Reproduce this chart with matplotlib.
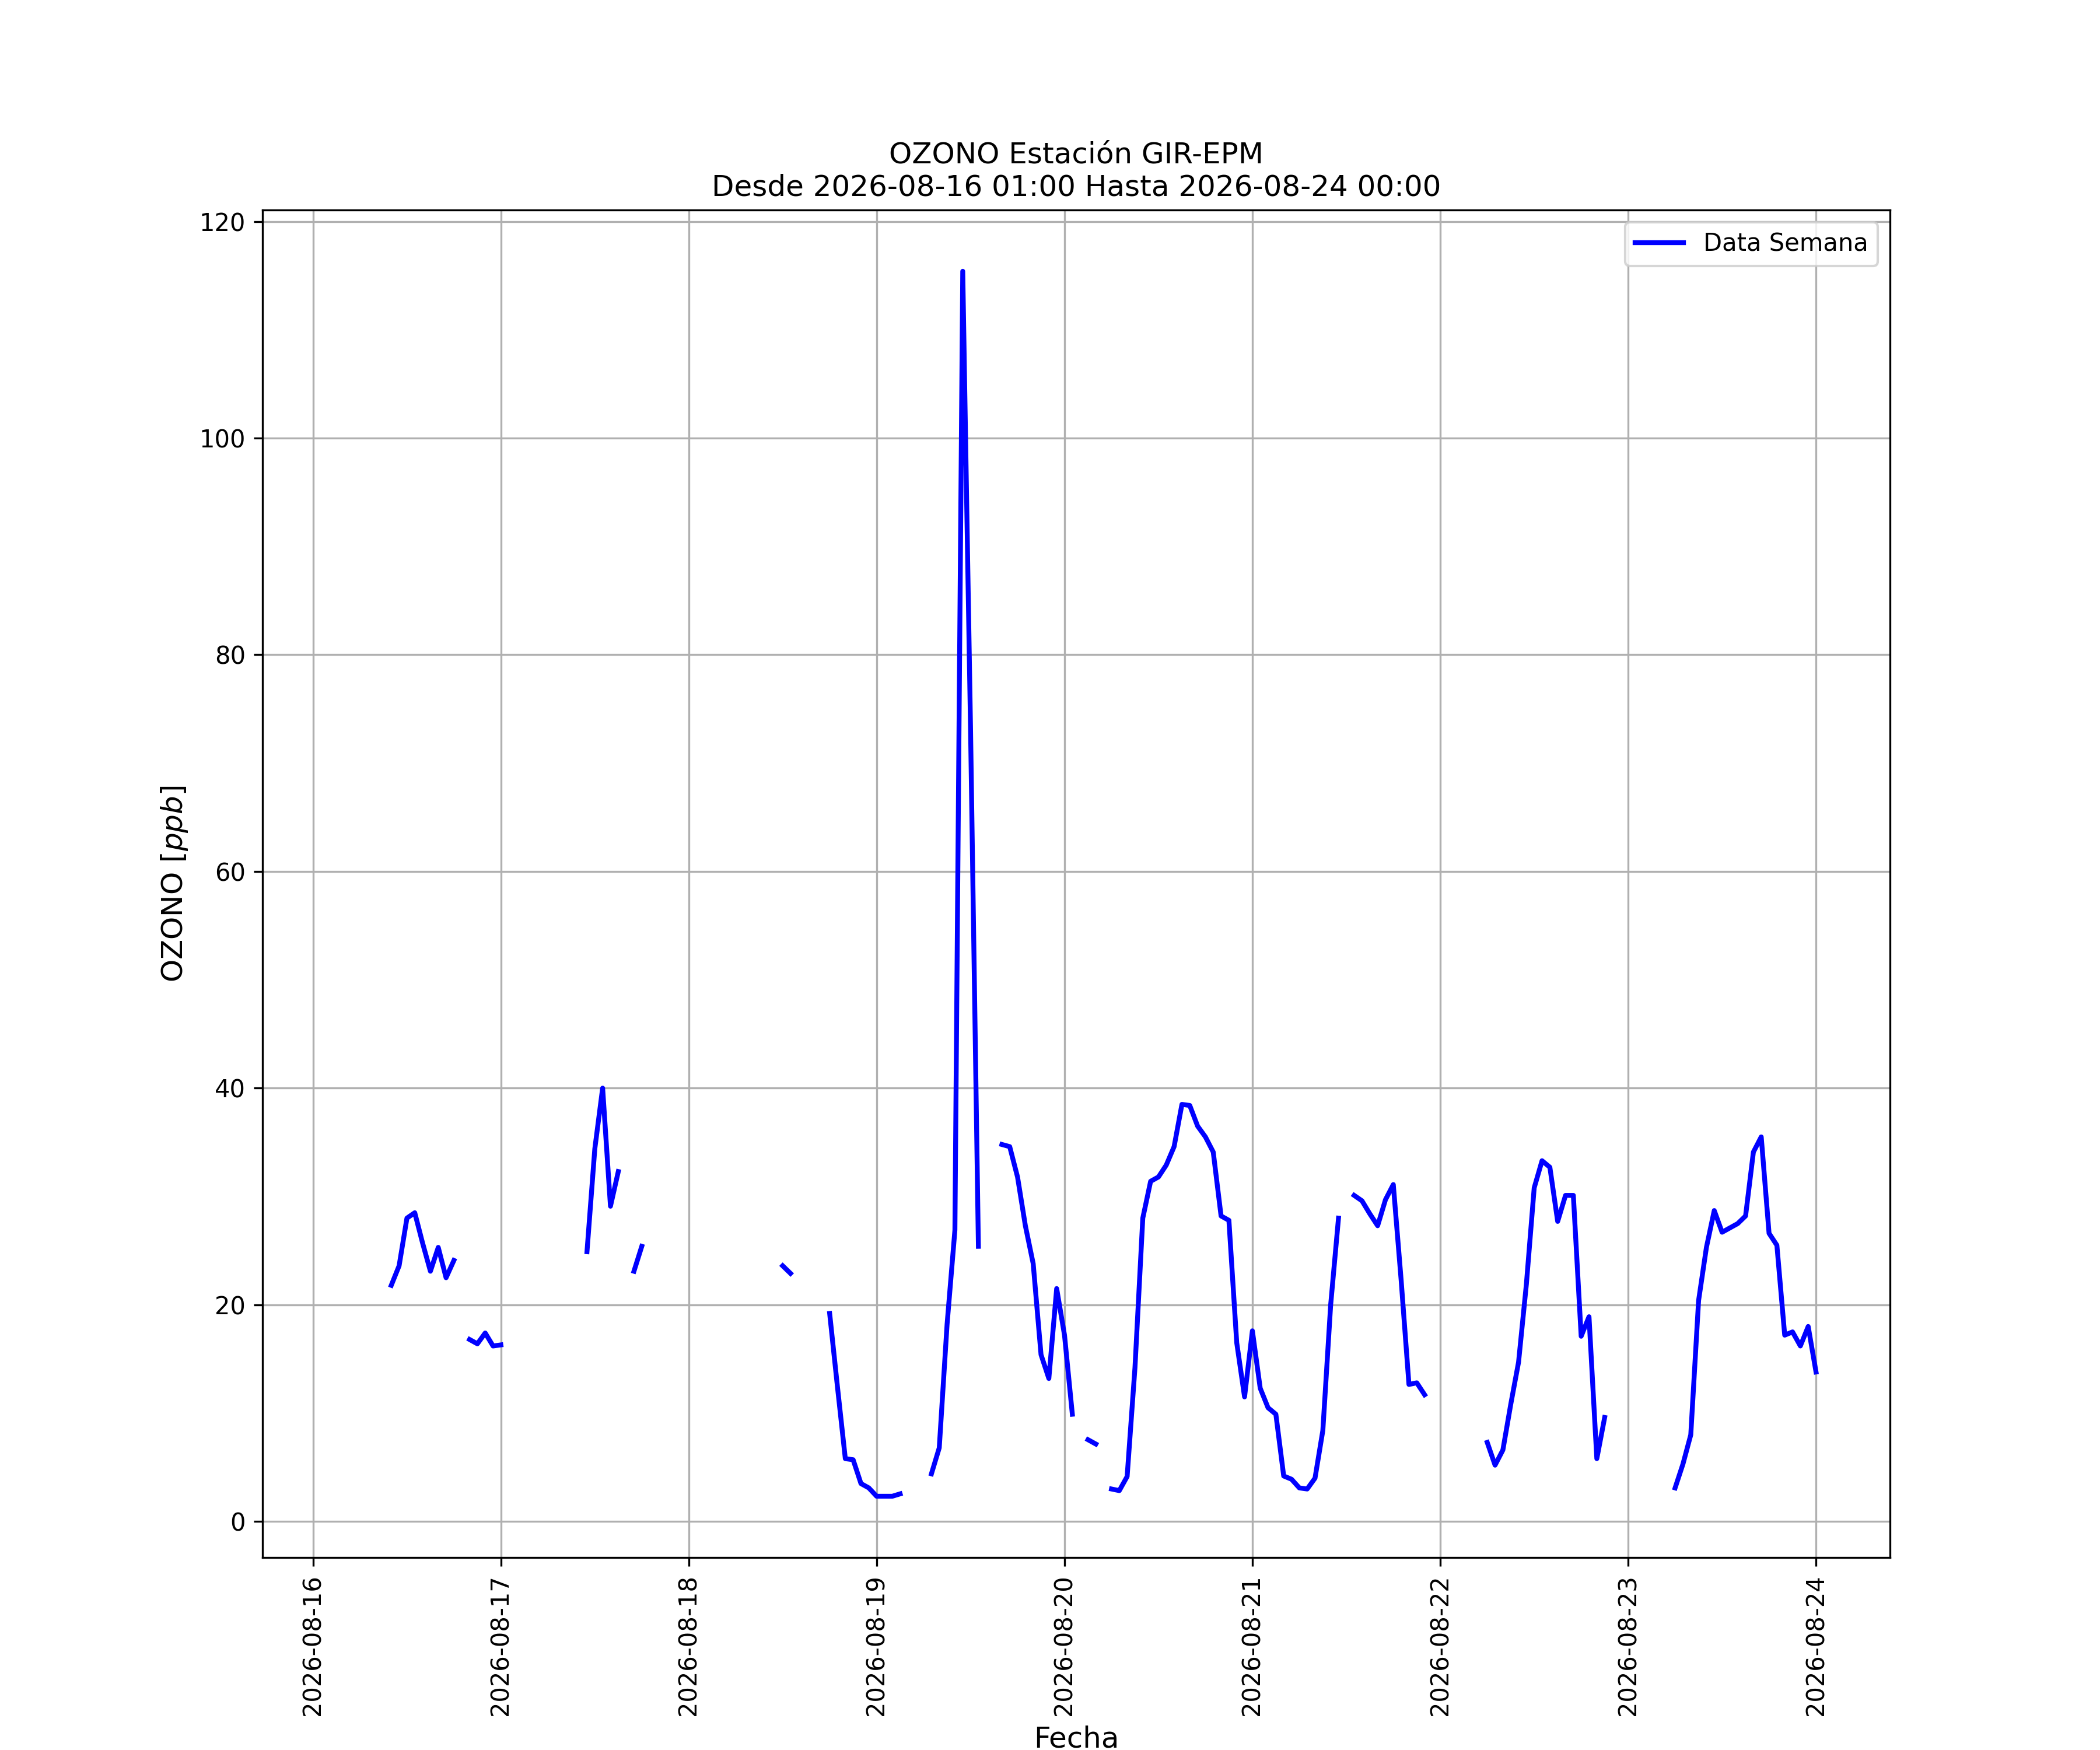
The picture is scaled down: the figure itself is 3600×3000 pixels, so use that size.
import numpy as np
import pandas as pd
import matplotlib
matplotlib.use('Agg')
import matplotlib.pyplot as plt

n = np.nan

# hourly ozone readings (ppb), NaN = no data
dia16 = [n, n, 20.0, n, n, n, n, n, n, 21.8, 23.6, 28.0, 28.5, 25.7, 23.1, 25.3,
         22.5, 24.1, n, 16.8, 16.4, 17.4, 16.2]                       # 01:00-23:00
dia17 = [16.3, n, n, n, n, n, n, n, n, n, n, 24.9, 34.4, 40.0, 29.1, 32.3,
         n, 23.1, 25.4, n, n, n, n, n]
dia18 = [n, n, n, n, n, n, n, n, n, n, n, n, 23.6, 22.9, n, n,
         n, n, 19.2, 12.4, 5.8, 5.7, 3.5, 3.1]
dia19 = [2.33, 2.33, 2.33, 2.55, n, n, n, 4.4, 6.8, 18.2, 26.9, 115.4, 73.0, 25.4, n, n,
         34.8, 34.6, 31.8, 27.3, 23.8, 15.4, 13.2, 21.5]
dia20 = [17.2, 9.9, n, 7.55, 7.15, n, 3.0, 2.85, 4.15, 14.2, 28.0, 31.4, 31.8, 32.9, 34.6, 38.5,
         38.4, 36.5, 35.5, 34.1, 28.2, 27.8, 16.5, 11.5]
dia21 = [17.6, 12.3, 10.5, 9.9, 4.2, 3.9, 3.1, 3.0, 4.0, 8.4, 20.0, 28.0, n, 30.1, 29.6, 28.4,
         27.3, 29.7, 31.1, 22.3, 12.65, 12.8, 11.7, n]
dia22 = [n, n, n, n, n, n, 7.3, 5.2, 6.6, 10.8, 14.7, 21.9, 30.8, 33.3, 32.7, 27.7,
         30.1, 30.1, 17.1, 18.9, 5.8, 9.6, n, n]
dia23 = [n, n, n, n, n, n, 3.1, 5.3, 8.0, 20.4, 25.3, 28.7, 26.7, 27.1, 27.5, 28.2,
         34.1, 35.5, 26.6, 25.5, 17.2, 17.5, 16.2, 18.0]
dia24 = [13.8]                                                          # 00:00

inicio = '2026-08-16 01:00'
fin = '2026-08-24 00:00'
horas = pd.date_range(inicio, fin, freq='h')
ozono = np.array(dia16 + dia17 + dia18 + dia19 + dia20 + dia21 + dia22 + dia23 + dia24)

fig, ax = plt.subplots(figsize=(12, 10), dpi=300)

ax.plot(horas.to_pydatetime(), ozono, 'b-', lw=2, label='Data Semana')

ax.set_title('OZONO Estación GIR-EPM\nDesde %s Hasta %s' % (inicio, fin), fontsize=12)
ax.set_xlabel('Fecha', fontsize=12)
ax.set_ylabel('OZONO [$ppb$]', fontsize=12)
ax.tick_params(axis='x', rotation=90)
ax.grid(True)
ax.legend(loc='upper right')

fig.savefig('out.png', dpi=300)
